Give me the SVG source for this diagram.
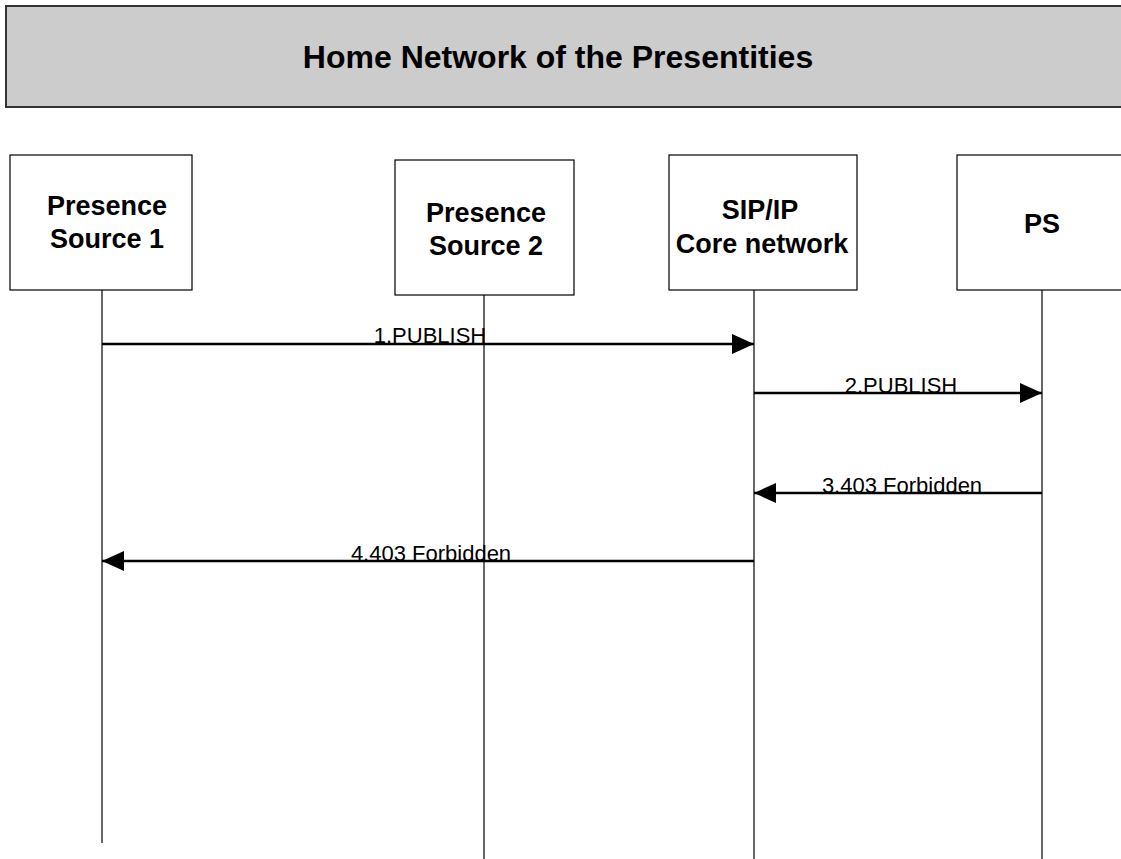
<svg xmlns="http://www.w3.org/2000/svg" width="1121" height="859" viewBox="0 0 1121 859">
<defs>
<style>
.box{fill:#fff;stroke:#000;stroke-width:1.2}
.life{stroke:#000;stroke-width:1.2}
.msg{stroke:#000;stroke-width:2.5;fill:none}
.nt{font-family:"Liberation Sans",Arial,sans-serif;font-weight:bold;font-size:27px;text-anchor:middle;fill:#000}
.lt{font-family:"Liberation Sans",Arial,sans-serif;font-size:22px;text-anchor:middle;fill:#000}
</style>
<marker id="ah" viewBox="0 0 22 20" refX="22" refY="10" markerWidth="22" markerHeight="20" markerUnits="userSpaceOnUse" orient="auto-start-reverse">
<path d="M0,0 L22,10 L0,20 z" fill="#000"/>
</marker>
</defs>
<rect width="1121" height="859" fill="#fff"/>
<g id="header">
<rect x="6" y="6" width="1130" height="101" fill="#cccccc" stroke="#333" stroke-width="2"/>
<text x="558" y="68" font-family="Liberation Sans,Arial,sans-serif" font-weight="bold" font-size="32" text-anchor="middle">Home Network of the Presentities</text>
</g>
<g id="lifelines">
<line class="life" x1="102" y1="290" x2="102" y2="843"/>
<line class="life" x1="484" y1="295" x2="484" y2="859"/>
<line class="life" x1="754" y1="290" x2="754" y2="859"/>
<line class="life" x1="1042" y1="290" x2="1042" y2="859"/>
</g>
<g id="ps1">
<rect class="box" x="10" y="155" width="182" height="135"/>
<text class="nt" x="107" y="215">Presence</text>
<text class="nt" x="107" y="248">Source 1</text>
</g>
<g id="ps2">
<rect class="box" x="395" y="160" width="179" height="135"/>
<text class="nt" x="486" y="222">Presence</text>
<text class="nt" x="486" y="255">Source 2</text>
</g>
<g id="core">
<rect class="box" x="669" y="155" width="188" height="135"/>
<text class="nt" x="760" y="219">SIP/IP</text>
<text class="nt" x="762" y="253">Core network</text>
</g>
<g id="ps">
<rect class="box" x="957" y="155" width="180" height="135"/>
<text class="nt" x="1042" y="233">PS</text>
</g>
<g id="connectors">
<line class="msg" x1="102" y1="344" x2="754" y2="344" marker-end="url(#ah)"/>
<text class="lt" x="430" y="343">1.PUBLISH</text>
<line class="msg" x1="754" y1="393" x2="1042" y2="393" marker-end="url(#ah)"/>
<text class="lt" x="901" y="393">2.PUBLISH</text>
<line class="msg" x1="1042" y1="493" x2="754" y2="493" marker-end="url(#ah)"/>
<text class="lt" x="902" y="493">3.403 Forbidden</text>
<line class="msg" x1="754" y1="561" x2="102" y2="561" marker-end="url(#ah)"/>
<text class="lt" x="431" y="561">4.403 Forbidden</text>
</g>
</svg>
